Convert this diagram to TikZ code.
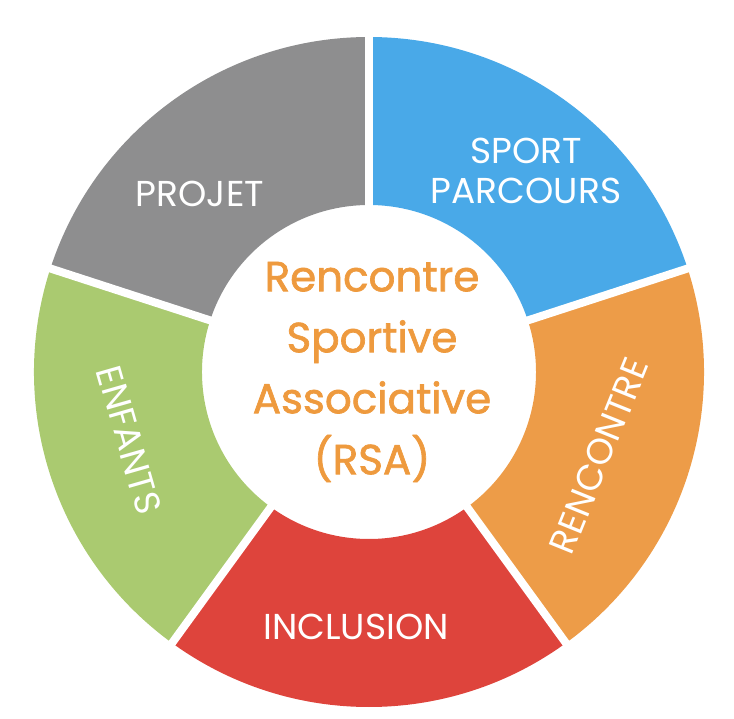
\documentclass[tikz,border=0pt]{standalone}
\usepackage{fontspec}
\setmainfont{Poppins}
\newfontfamily\hubfont[FakeBold=1.6]{Poppins}
\usepackage{tikz}
\usetikzlibrary{positioning}
\definecolor{rsagray}{RGB}{142,142,143}
\definecolor{rsablue}{RGB}{73,169,232}
\definecolor{rsaorange}{RGB}{237,156,72}
\definecolor{rsared}{RGB}{222,68,60}
\definecolor{rsagreen}{RGB}{170,202,112}
\definecolor{rsatext}{RGB}{238,154,62}
\tikzset{
  seglabel/.style={text=white, font=\fontsize{36}{40}\selectfont, align=center, inner sep=0pt},
  hublabel/.style={text=rsatext, font=\hubfont\fontsize{42}{61}\selectfont, align=center, inner sep=0pt},
  gapline/.style={white, line width=8pt},
}
\def\rin{167}
\def\rout{335}

\begin{document}
\begin{tikzpicture}[x=1pt, y=1pt]

\useasboundingbox (-369,-346) rectangle (365,372);

% ring segments
\foreach \a/\col in {90/rsagray, 162/rsagreen, 234/rsared, 306/rsaorange, 18/rsablue}{
  \fill[\col] (\a:\rin) arc[start angle=\a, end angle=\a+72, radius=\rin]
    -- (\a+72:\rout) arc[start angle=\a+72, end angle=\a, radius=\rout] -- cycle;
}

% white gaps between segments
\foreach \a in {18, 90, 162, 234, 306}{
  \draw[gapline] (\a:\rin-10) -- (\a:\rout+10);
}

% centre
\node[hublabel] (hub) at (3,0) {Rencontre\\Sportive\\Associative\\(RSA)};

% segment labels
\node[seglabel] (projet) at (-169,178) {PROJET};
\node[seglabel] (sport) at (157,201) {SPORT\\PARCOURS};
\node[seglabel, rotate=68] (rencontre) at (230,-84) {RENCONTRE};
\node[seglabel] (inclusion) at (-13,-255) {INCLUSION};
\node[seglabel, rotate=-74] (enfants) at (-240,-68) {ENFANTS};

\end{tikzpicture}
\end{document}
